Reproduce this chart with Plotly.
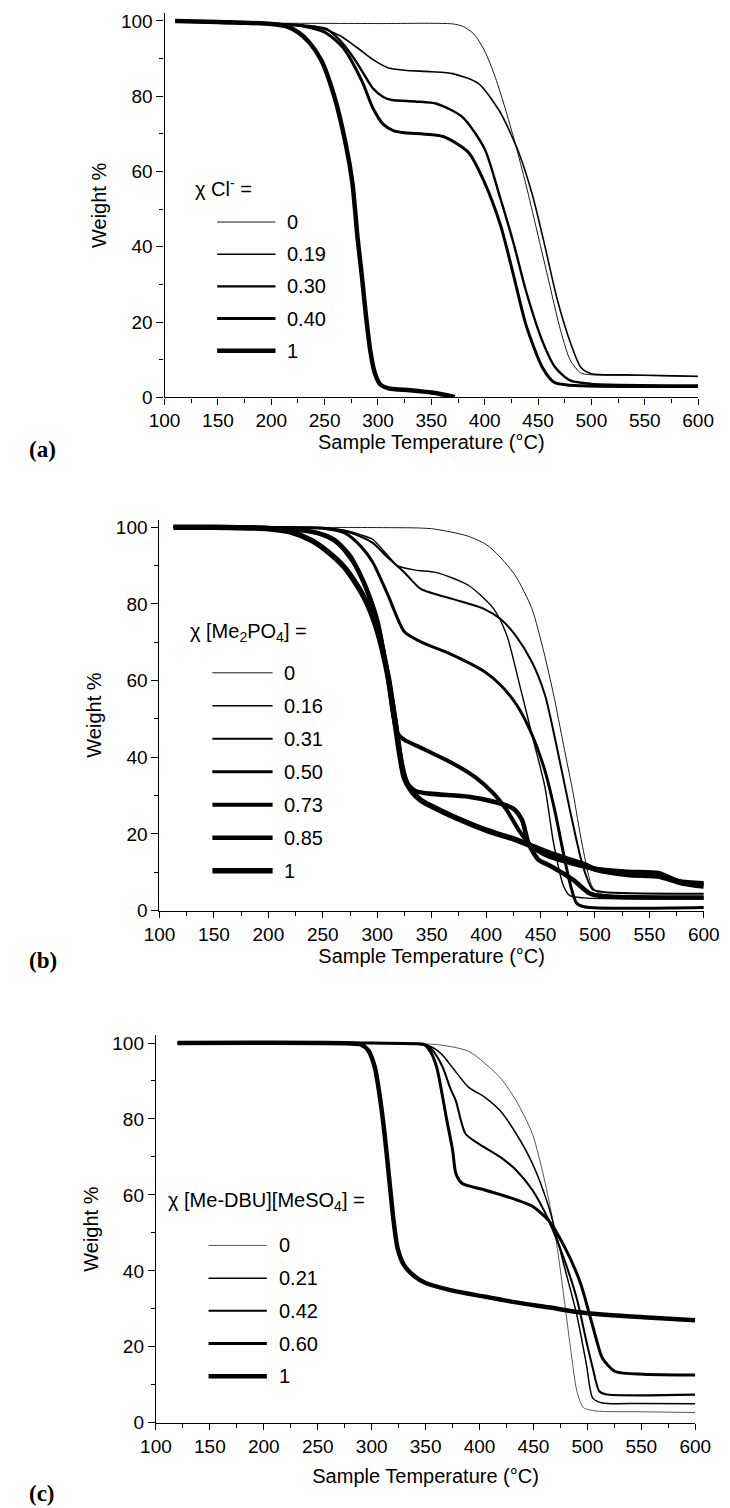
import plotly.graph_objects as go

W_FIG, H_FIG = 730, 1508

# ---------------- data: panel (a) chi Cl- ----------------
a_labels = ["0", "0.19", "0.30", "0.40", "1"]
a_T = [
    [110, 150, 200, 300, 370, 380, 390, 400, 410, 420, 430, 440, 450, 460, 470, 480, 490, 500, 550, 600],
    [110, 150, 200, 230, 250, 265, 280, 295, 310, 325, 350, 370, 394, 414, 432, 445, 457, 468, 481, 490, 500, 530, 600],
    [110, 150, 200, 230, 252, 267, 280, 295, 305, 313, 335, 355, 379, 400, 414, 427, 439, 454, 466, 480, 500, 600],
    [110, 150, 200, 230, 250, 267, 285, 295, 305, 315, 325, 361, 385, 400, 415, 427, 439, 454, 465, 480, 600],
    [110, 150, 200, 215, 225, 235, 247, 259, 270, 276, 281, 285, 289, 293, 297, 302, 310, 330, 350, 362, 372],
]
a_W = [
    [100, 99.6, 99.4, 99.3, 99.2, 98.5, 96.5, 92, 85, 76, 66, 55, 43, 31, 19, 10, 6.5, 6, 5.8, 5.5],
    [100, 99.6, 99.2, 98.8, 97.8, 96, 93, 89.8, 87.5, 86.9, 86.5, 86, 83.4, 76, 65, 53.5, 39.5, 26, 14, 8, 6.3, 6, 5.6],
    [100, 99.6, 99.2, 98.8, 97.8, 94, 89, 82.2, 79.8, 79, 78.6, 78, 74.5, 66, 53.5, 41, 28, 15, 8, 4.5, 3.6, 3.2],
    [100, 99.6, 99.2, 98.6, 97, 93, 84, 77, 72.5, 70.8, 70.3, 69.3, 65, 57, 45.6, 32.5, 19, 8, 4, 3.2, 2.9],
    [100, 99.7, 99.2, 98.5, 97, 94.5, 89.5, 80, 67, 57, 42, 32, 21, 12, 6.5, 3.5, 2.4, 1.9, 1.3, 0.7, 0.1],
]
a_widths = [0.9, 1.6, 2.4, 3.0, 4.5]

# ---------------- data: panel (b) chi [Me2PO4] ----------------
b_labels = ["0", "0.16", "0.31", "0.50", "0.73", "0.85", "1"]
b_T = [
    [113, 200, 300, 350, 383, 400, 412, 427, 442, 453, 462, 471, 480, 488, 497, 503, 520, 600],
    [113, 200, 250, 270, 285, 296, 310, 319, 335, 354, 384, 407, 419, 430, 442, 454, 462, 471, 477, 490, 600],
    [113, 200, 250, 270, 285, 296, 310, 325, 340, 369, 398, 413, 427, 442, 454, 465, 477, 489, 498, 510, 600],
    [113, 200, 250, 270, 285, 296, 310, 325, 340, 369, 398, 413, 428, 442, 454, 463, 471, 477, 483, 490, 600],
    [113, 200, 230, 250, 265, 280, 290, 300, 308, 314, 318, 325, 340, 370, 390, 407, 419, 430, 442, 457, 477, 495, 530, 559, 577, 600],
    [113, 200, 240, 260, 275, 290, 300, 310, 318, 322, 328, 335, 348, 384, 407, 425, 433, 439, 448, 460, 480, 495, 505, 600],
    [113, 150, 200, 220, 240, 255, 270, 280, 290, 300, 310, 316, 320, 325, 332, 340, 355, 370, 400, 430, 460, 490, 500, 530, 560, 580, 600],
]
b_W = [
    [100, 99.95, 99.9, 99.6, 97.7, 95.5, 92.5, 87.3, 78.8, 67.5, 56.3, 43.4, 30.5, 17.6, 6.5, 4.6, 3.9, 3.6],
    [100, 99.9, 99.8, 99.2, 98, 96.8, 92.5, 89.9, 88.8, 88.2, 84.8, 78.7, 71.8, 59.8, 46, 32.3, 17.6, 6.5, 3.9, 3.3, 3.0],
    [100, 99.9, 99.8, 99, 97.5, 95.9, 92, 88.2, 83.9, 81.3, 78.7, 76.1, 71.8, 64.9, 56.3, 42.6, 26.2, 11.5, 5.5, 4.8, 4.4],
    [100, 99.9, 99.7, 98.5, 95, 90.8, 82.2, 72.7, 70.1, 66.7, 62.4, 58.9, 53.7, 46, 36.5, 26.2, 15, 7.2, 2, 1, 0.8],
    [100, 99.8, 99.3, 98, 95.5, 90, 84, 76, 64, 52, 46.5, 44.5, 42.5, 38.3, 34.8, 30.5, 26.2, 21, 16.7, 14.1, 12.4, 11.1, 10.2, 9.8, 7.7, 7.2],
    [100, 99.8, 98.8, 96.8, 92.5, 84, 75, 61, 47, 39, 33, 31.2, 30.5, 29.7, 28.4, 26.6, 23.6, 17.5, 13.3, 11.5, 8, 4.5, 3.8, 3.4],
    [100, 100, 99.6, 98.8, 96.5, 93.5, 89.5, 85.5, 80.5, 73, 61, 50, 42, 34.5, 31, 28.8, 26.5, 24.5, 21, 18.2, 14.8, 12, 10.8, 9.4, 8.9, 7.2, 6.4],
]
b_widths = [0.9, 1.4, 2.0, 3.0, 4.0, 4.6, 5.5]

# ---------------- data: panel (c) chi [Me-DBU][MeSO4] ----------------
c_labels = ["0", "0.21", "0.42", "0.60", "1"]
c_T = [
    [120, 300, 340, 360, 390, 419, 434, 449, 461, 470, 478.5, 484.4, 490.3, 496.3, 508, 550, 600],
    [120, 300, 340, 355, 365, 375, 390, 405, 419, 434, 449, 464, 478.5, 490.3, 499.2, 505, 514, 550, 600],
    [120, 300, 340, 351.5, 358, 366, 373, 378, 387, 399, 419, 434, 449, 464, 478.5, 490.3, 499.2, 505, 511, 517, 600],
    [120, 300, 340, 348.5, 355, 360.4, 365, 369.2, 375.1, 378.1, 384, 395, 404.7, 434.2, 449, 463.7, 478.5, 493.3, 502.2, 508.1, 514, 525.8, 552.4, 600],
    [120, 280, 290, 297, 303, 308, 312, 316, 320, 324, 330, 340, 350, 375, 405, 434, 464, 493, 523, 552, 600],
]
c_W = [
    [100, 100, 99.8, 99.6, 97.8, 90.9, 84.8, 76.1, 63, 50, 32.6, 19.6, 8.3, 4, 3.1, 2.9, 2.7],
    [100, 100, 99.8, 99, 97, 93.5, 88.3, 85.7, 82.2, 76.1, 68.3, 57, 41.3, 28.3, 15.2, 6.5, 5.2, 5.1, 5.0],
    [100, 100, 99.8, 99.4, 97.5, 93.5, 88, 84.8, 76.1, 73.5, 70, 66.5, 61.3, 53.4, 43, 32.6, 21.3, 14.4, 8.3, 7.5, 7.4],
    [100, 100, 99.8, 99.6, 97.5, 93.5, 87, 80.4, 71.7, 65.6, 63, 62, 61.3, 58.7, 57, 53.4, 46.5, 37, 28.3, 22.2, 17, 13.5, 12.8, 12.6],
    [100, 99.9, 99.6, 98, 93.5, 85, 76, 65, 54, 46, 41.5, 38.5, 36.8, 34.8, 33.2, 31.7, 30.4, 29.1, 28.3, 27.8, 27],
]
c_widths = [0.9, 1.5, 2.1, 3.0, 4.5]
c_colors = ["#444444", "black", "black", "black", "black"]

x_ticks = [100, 150, 200, 250, 300, 350, 400, 450, 500, 550, 600]
y_ticks = [0, 20, 40, 60, 80, 100]

legend_titles = ["χ Cl<sup>-</sup> =", "χ [Me<sub>2</sub>PO<sub>4</sub>] =", "χ [Me-DBU][MeSO<sub>4</sub>] ="]
panel_tags = ["(a)", "(b)", "(c)"]
x_title = "Sample Temperature (°C)"
y_title = "Weight %"

# ---------------- layout geometry (pixels) ----------------
def px(x):
    return x / W_FIG

def py(y):
    return 1 - y / H_FIG

panels = [
    dict(T=a_T, W=a_W, labels=a_labels, widths=a_widths, colors=["black"] * 5,
         x0=147, x1=705, ytop=2.4, ybot=390, leg_title=(177, 178), leg_x=(202, 263, 273),
         leg_y0=213, leg_dy=32.5, x_stand=0, tag_y=443),
    dict(T=b_T, W=b_W, labels=b_labels, widths=b_widths, colors=["black"] * 7,
         x0=141.7, x1=711, ytop=513.3, ybot=908, leg_title=(172, 627), leg_x=(197, 260, 270),
         leg_y0=668, leg_dy=33.3, x_stand=0, tag_y=958),
    dict(T=c_T, W=c_W, labels=c_labels, widths=c_widths, colors=c_colors,
         x0=138, x1=702, ytop=1034, ybot=1425, leg_title=(148, 1202), leg_x=(193, 254, 265),
         leg_y0=1246, leg_dy=33, x_stand=13, tag_y=1496),
]

sans = "Liberation Sans, Arial, sans-serif"
tick_font = dict(family=sans, size=19, color="black")
title_font = dict(family=sans, size=20, color="black")

fig = go.Figure()
shapes = []
annotations = []
layout = dict(width=W_FIG, height=H_FIG, margin=dict(l=0, r=0, t=0, b=0),
              paper_bgcolor="white", plot_bgcolor="white", showlegend=False)

for i, p in enumerate(panels):
    sfx = "" if i == 0 else str(i + 1)
    for T, Wt, lab, lw, col in zip(p["T"], p["W"], p["labels"], p["widths"], p["colors"]):
        fig.add_trace(go.Scatter(x=T, y=Wt, mode="lines", name=lab,
                                 line=dict(color=col, width=lw, shape="spline", smoothing=0.7),
                                 xaxis="x" + sfx, yaxis="y" + sfx, hoverinfo="skip"))
    layout["xaxis" + sfx] = dict(
        domain=[px(p["x0"]), px(p["x1"])], anchor="y" + sfx, range=[100, 600],
        tickmode="array", tickvals=x_ticks, ticks="outside", ticklen=6, tickwidth=1.2,
        tickcolor="black", showline=True, linecolor="black", linewidth=1.3,
        showgrid=False, zeroline=False, tickfont=tick_font,
        minor=dict(dtick=25, tick0=100, ticks="outside", ticklen=4, tickwidth=1.2,
                   tickcolor="black", showgrid=False),
        title=dict(text=x_title, font=title_font, standoff=p["x_stand"]),
    )
    layout["yaxis" + sfx] = dict(
        domain=[py(p["ybot"]), py(p["ytop"])], anchor="x" + sfx, range=[0, 102],
        tickmode="array", tickvals=y_ticks, ticks="outside", ticklen=7, tickwidth=1.2,
        tickcolor="black", showline=True, linecolor="black", linewidth=1.3,
        showgrid=False, zeroline=False, tickfont=tick_font,
        minor=dict(dtick=10, tick0=0, ticks="outside", ticklen=4, tickwidth=1.2,
                   tickcolor="black", showgrid=False),
        title=dict(text=y_title, font=title_font, standoff=8),
    )
    # custom legend (samples are 61 px wide as in the reference)
    tx, ty = p["leg_title"]
    annotations.append(dict(x=px(tx), y=py(ty), xref="paper", yref="paper", text=legend_titles[i],
                            showarrow=False, xanchor="left", yanchor="middle",
                            font=dict(family=sans, size=20, color="black")))
    lx0, lx1, ltx = p["leg_x"]
    for k, (lab, lw, col) in enumerate(zip(p["labels"], p["widths"], p["colors"])):
        yy = p["leg_y0"] + k * p["leg_dy"]
        shapes.append(dict(type="line", xref="paper", yref="paper", x0=px(lx0), x1=px(lx1),
                           y0=py(yy), y1=py(yy), line=dict(color=col, width=lw)))
        annotations.append(dict(x=px(ltx), y=py(yy), xref="paper", yref="paper", text=lab,
                                showarrow=False, xanchor="left", yanchor="middle",
                                font=dict(family=sans, size=20, color="black")))
    annotations.append(dict(x=px(3), y=py(p["tag_y"]), xref="paper", yref="paper", text="<b>" + panel_tags[i] + "</b>",
                            showarrow=False, xanchor="left", yanchor="middle",
                            font=dict(family="Liberation Serif, Times New Roman, serif", size=23, color="black")))

layout["shapes"] = shapes
layout["annotations"] = annotations
fig.update_layout(**layout)
fig.write_html("out.html")
